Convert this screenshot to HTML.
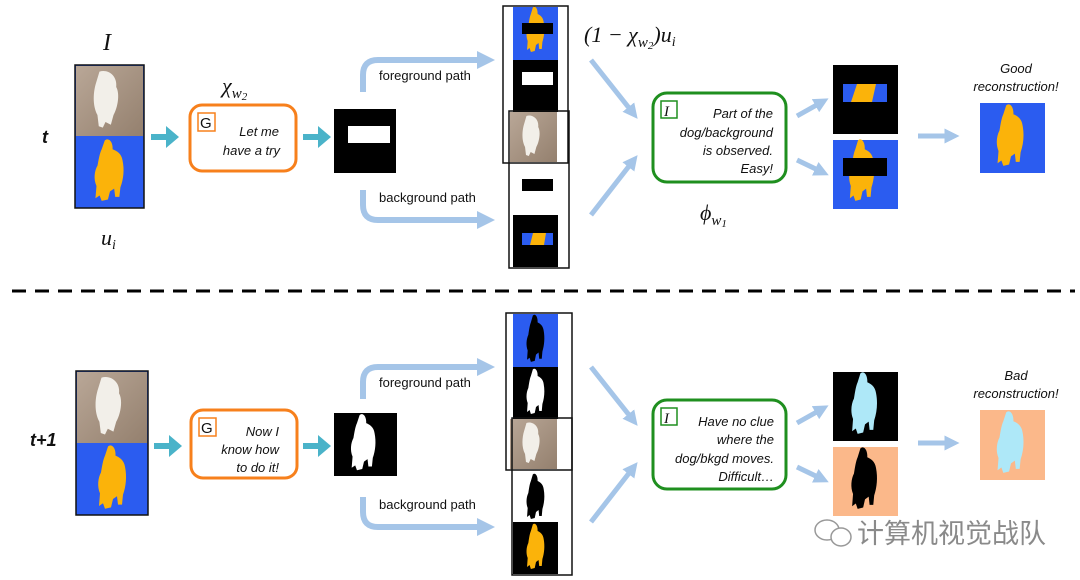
<!DOCTYPE html>
<html><head><meta charset="utf-8"><style>
html,body{margin:0;padding:0;background:#fff;width:1080px;height:580px;overflow:hidden}
svg{display:block}
.s{font-family:"Liberation Sans",sans-serif;font-size:13px;fill:#111}
.i{font-family:"Liberation Sans",sans-serif;font-style:italic;font-size:13px;fill:#111}
.m{font-family:"Liberation Serif",serif;font-style:italic;fill:#111}
</style></head><body>
<svg width="1080" height="580" viewBox="0 0 1080 580" xmlns="http://www.w3.org/2000/svg">
<defs>
<path id="dog" d="M40 5 C48 0 56 8 55 18 C62 20 72 24 74 34 C78 48 76 62 70 74 L68 88 L60 88 L58 76 L50 80 L46 92 L34 94 L30 86 L22 90 L24 72 C18 62 20 50 26 42 C28 34 30 24 34 18 Z"/>
<linearGradient id="ph" x1="0" y1="0" x2="1" y2="1"><stop offset="0" stop-color="#b9a797"/><stop offset="1" stop-color="#94806e"/></linearGradient>
<g id="photo"><rect width="100" height="100" fill="url(#ph)"/><path d="M35 8 C48 4 62 14 60 30 C66 40 62 60 56 70 L52 84 L44 80 L40 88 L34 86 L32 70 C24 56 26 36 30 24 Z" fill="#f2efe9"/></g>
<marker id="ah" viewBox="0 0 10 10" refX="5" refY="5" markerWidth="3" markerHeight="3" orient="auto"><path d="M0 0 L10 5 L0 10 Z" fill="#a5c5e8"/></marker>
</defs>

<!-- ============ TOP ROW ============ -->
<text class="m" x="103" y="50" font-size="24">I</text>
<text class="s" x="42" y="143" style="font-size:18px;font-weight:bold;font-style:italic">t</text>
<text class="m" x="101" y="245" font-size="22">u<tspan font-size="14" dy="4">i</tspan></text>
<rect x="75" y="65" width="69" height="143" fill="#2b5cf0" stroke="#111" stroke-width="1.5"/>
<svg x="76" y="66" width="67" height="70" viewBox="0 0 100 100" preserveAspectRatio="none"><use href="#photo"/></svg>
<svg x="84" y="137" width="52" height="68" viewBox="0 0 100 100" preserveAspectRatio="none"><use href="#dog" fill="#fbb30a"/></svg>

<path d="M151 137 H166 V129 L179 140 L166 151 V143 H151Z" fill="#4ab3c9" transform="translate(0,-3)"/>
<text class="m" x="222" y="93" font-size="22">χ<tspan font-size="15" dy="5">w</tspan><tspan font-size="11" dy="2">2</tspan></text>
<rect x="190" y="105" width="106" height="66" rx="12" fill="#fff" stroke="#f7801c" stroke-width="3"/>
<rect x="198" y="113" width="17" height="18" fill="none" stroke="#f7801c" stroke-width="1.5"/>
<text class="s" x="200" y="128" style="font-size:15px">G</text>
<text class="i" x="279" y="136" text-anchor="end">Let me</text>
<text class="i" x="280" y="155" text-anchor="end">have a try</text>

<path d="M303 137 H318 V129 L331 140 L318 151 V143 H303Z" fill="#4ab3c9" transform="translate(0,-3)"/>
<rect x="334" y="109" width="62" height="64" fill="#000"/>
<rect x="348" y="126" width="42" height="17" fill="#fff"/>

<path d="M363 92 V75 Q363 60 378 60 H486" fill="none" stroke="#a5c5e8" stroke-width="6" marker-end="url(#ah)"/>
<text class="s" x="379" y="80">foreground path</text>
<path d="M363 190 V205 Q363 220 378 220 H486" fill="none" stroke="#a5c5e8" stroke-width="6" marker-end="url(#ah)"/>
<text class="s" x="379" y="202">background path</text>

<rect x="513" y="7" width="45" height="53" fill="#2b5cf0"/>
<svg x="520" y="5" width="32" height="50" viewBox="0 0 100 100" preserveAspectRatio="none"><use href="#dog" fill="#fbb30a"/></svg>
<rect x="522" y="23" width="31" height="11" fill="#000"/>
<rect x="513" y="60" width="45" height="52" fill="#000"/>
<rect x="522" y="72" width="31" height="13" fill="#fff"/>
<svg x="510" y="112" width="47" height="50" viewBox="0 0 100 100" preserveAspectRatio="none"><use href="#photo"/></svg>
<rect x="522" y="179" width="31" height="12" fill="#000"/>
<rect x="513" y="215" width="45" height="52" fill="#000"/>
<rect x="522" y="233" width="31" height="12" fill="#2b5cf0"/>
<path d="M533 233 H546 L544 245 H530Z" fill="#fbb30a"/>
<rect x="503" y="6" width="65" height="157" fill="none" stroke="#111" stroke-width="1.5"/>
<rect x="509" y="111" width="60" height="157" fill="none" stroke="#111" stroke-width="1.5"/>

<text class="m" x="584" y="42" font-size="22">(1 − χ<tspan font-size="15" dy="5">w</tspan><tspan font-size="11" dy="2">2</tspan><tspan dy="-7">)u</tspan><tspan font-size="14" dy="4">i</tspan></text>

<line x1="591" y1="60" x2="633" y2="113" stroke="#a5c5e8" stroke-width="5" marker-end="url(#ah)"/>
<line x1="591" y1="215" x2="633" y2="161" stroke="#a5c5e8" stroke-width="5" marker-end="url(#ah)"/>

<rect x="653" y="93" width="133" height="89" rx="14" fill="#fff" stroke="#1f8f1f" stroke-width="3"/>
<rect x="661" y="101" width="16" height="17" fill="none" stroke="#1f8f1f" stroke-width="1.5"/>
<text class="m" x="664" y="116" font-size="15" font-style="normal">I</text>
<text class="i" x="773" y="118" text-anchor="end">Part of the</text>
<text class="i" x="773" y="137" text-anchor="end">dog/background</text>
<text class="i" x="773" y="155" text-anchor="end">is observed.</text>
<text class="i" x="773" y="173" text-anchor="end">Easy!</text>
<text class="m" x="700" y="220" font-size="22">ϕ<tspan font-size="15" dy="5">w</tspan><tspan font-size="11" dy="2">1</tspan></text>

<line x1="797" y1="116" x2="822" y2="102" stroke="#a5c5e8" stroke-width="5" marker-end="url(#ah)"/>
<line x1="797" y1="160" x2="822" y2="172" stroke="#a5c5e8" stroke-width="5" marker-end="url(#ah)"/>

<rect x="833" y="65" width="65" height="69" fill="#000"/>
<rect x="843" y="84" width="44" height="18" fill="#2b5cf0"/>
<path d="M857 84 H876 L872 102 H851Z" fill="#fbb30a"/>
<rect x="833" y="140" width="65" height="69" fill="#2b5cf0"/>
<svg x="840" y="137" width="45" height="68" viewBox="0 0 100 100" preserveAspectRatio="none"><use href="#dog" fill="#fbb30a"/></svg>
<rect x="843" y="158" width="44" height="18" fill="#000"/>

<line x1="918" y1="136" x2="952" y2="136" stroke="#a5c5e8" stroke-width="5" marker-end="url(#ah)"/>
<text class="i" x="1016" y="73" text-anchor="middle">Good</text>
<text class="i" x="1016" y="91" text-anchor="middle">reconstruction!</text>
<rect x="980" y="103" width="65" height="70" fill="#2b5cf0"/>
<svg x="987" y="102" width="48" height="68" viewBox="0 0 100 100" preserveAspectRatio="none"><use href="#dog" fill="#fbb30a"/></svg>

<line x1="12" y1="291" x2="1075" y2="291" stroke="#000" stroke-width="3" stroke-dasharray="14 9"/>

<!-- ============ BOTTOM ROW ============ -->
<text class="s" x="30" y="446" style="font-size:18px;font-weight:bold;font-style:italic">t+1</text>
<rect x="76" y="371" width="72" height="144" fill="#2b5cf0" stroke="#111" stroke-width="1.5"/>
<svg x="77" y="372" width="70" height="71" viewBox="0 0 100 100" preserveAspectRatio="none"><use href="#photo"/></svg>
<svg x="88" y="443" width="50" height="70" viewBox="0 0 100 100" preserveAspectRatio="none"><use href="#dog" fill="#fbb30a"/></svg>

<path d="M154 446 H169 V438 L182 449 L169 460 V452 H154Z" fill="#4ab3c9" transform="translate(0,-3)"/>
<rect x="191" y="410" width="106" height="68" rx="12" fill="#fff" stroke="#f7801c" stroke-width="3"/>
<rect x="199" y="418" width="17" height="18" fill="none" stroke="#f7801c" stroke-width="1.5"/>
<text class="s" x="201" y="433" style="font-size:15px">G</text>
<text class="i" x="279" y="436" text-anchor="end">Now I</text>
<text class="i" x="279" y="454" text-anchor="end">know how</text>
<text class="i" x="279" y="472" text-anchor="end">to do it!</text>

<path d="M303 446 H318 V438 L331 449 L318 460 V452 H303Z" fill="#4ab3c9" transform="translate(0,-3)"/>
<rect x="334" y="413" width="63" height="63" fill="#000"/>
<svg x="342" y="412" width="44" height="62" viewBox="0 0 100 100" preserveAspectRatio="none"><use href="#dog" fill="#fff"/></svg>

<path d="M363 399 V382 Q363 367 378 367 H486" fill="none" stroke="#a5c5e8" stroke-width="6" marker-end="url(#ah)"/>
<text class="s" x="379" y="387">foreground path</text>
<path d="M363 497 V512 Q363 527 378 527 H486" fill="none" stroke="#a5c5e8" stroke-width="6" marker-end="url(#ah)"/>
<text class="s" x="379" y="509">background path</text>

<rect x="513" y="314" width="45" height="53" fill="#2b5cf0"/>
<svg x="520" y="313" width="32" height="52" viewBox="0 0 100 100" preserveAspectRatio="none"><use href="#dog" fill="#000"/></svg>
<rect x="513" y="367" width="45" height="52" fill="#000"/>
<svg x="520" y="367" width="32" height="50" viewBox="0 0 100 100" preserveAspectRatio="none"><use href="#dog" fill="#fff"/></svg>
<svg x="510" y="419" width="47" height="50" viewBox="0 0 100 100" preserveAspectRatio="none"><use href="#photo"/></svg>
<svg x="520" y="472" width="32" height="50" viewBox="0 0 100 100" preserveAspectRatio="none"><use href="#dog" fill="#000"/></svg>
<rect x="513" y="522" width="45" height="52" fill="#000"/>
<svg x="520" y="522" width="32" height="50" viewBox="0 0 100 100" preserveAspectRatio="none"><use href="#dog" fill="#fbb30a"/></svg>
<rect x="506" y="313" width="66" height="157" fill="none" stroke="#111" stroke-width="1.5"/>
<rect x="512" y="418" width="60" height="157" fill="none" stroke="#111" stroke-width="1.5"/>

<line x1="591" y1="367" x2="633" y2="420" stroke="#a5c5e8" stroke-width="5" marker-end="url(#ah)"/>
<line x1="591" y1="522" x2="633" y2="468" stroke="#a5c5e8" stroke-width="5" marker-end="url(#ah)"/>

<rect x="653" y="400" width="133" height="89" rx="14" fill="#fff" stroke="#1f8f1f" stroke-width="3"/>
<rect x="661" y="408" width="16" height="17" fill="none" stroke="#1f8f1f" stroke-width="1.5"/>
<text class="m" x="664" y="423" font-size="15" font-style="normal">I</text>
<text class="i" x="774" y="426" text-anchor="end">Have no clue</text>
<text class="i" x="774" y="444" text-anchor="end">where the</text>
<text class="i" x="774" y="463" text-anchor="end">dog/bkgd moves.</text>
<text class="i" x="774" y="481" text-anchor="end">Difficult…</text>

<line x1="797" y1="423" x2="822" y2="409" stroke="#a5c5e8" stroke-width="5" marker-end="url(#ah)"/>
<line x1="797" y1="467" x2="822" y2="479" stroke="#a5c5e8" stroke-width="5" marker-end="url(#ah)"/>

<rect x="833" y="372" width="65" height="69" fill="#000"/>
<svg x="842" y="370" width="46" height="68" viewBox="0 0 100 100" preserveAspectRatio="none"><use href="#dog" fill="#aee8f8"/></svg>
<rect x="833" y="447" width="65" height="69" fill="#fbb88a"/>
<svg x="842" y="445" width="46" height="68" viewBox="0 0 100 100" preserveAspectRatio="none"><use href="#dog" fill="#000"/></svg>

<line x1="918" y1="443" x2="952" y2="443" stroke="#a5c5e8" stroke-width="5" marker-end="url(#ah)"/>
<text class="i" x="1016" y="380" text-anchor="middle">Bad</text>
<text class="i" x="1016" y="398" text-anchor="middle">reconstruction!</text>
<rect x="980" y="410" width="65" height="70" fill="#fbb88a"/>
<svg x="987" y="409" width="48" height="68" viewBox="0 0 100 100" preserveAspectRatio="none"><use href="#dog" fill="#aee8f8"/></svg>

<g fill="none" stroke="#999" stroke-width="1.5">
<ellipse cx="827" cy="530" rx="12" ry="10"/>
<ellipse cx="841" cy="537" rx="10" ry="9" fill="#fff"/>
</g>
<text x="857" y="543" font-family="'Liberation Sans','Noto Sans CJK SC',sans-serif" font-size="27" fill="#8a8a8a">计算机视觉战队</text>
</svg>
</body></html>
